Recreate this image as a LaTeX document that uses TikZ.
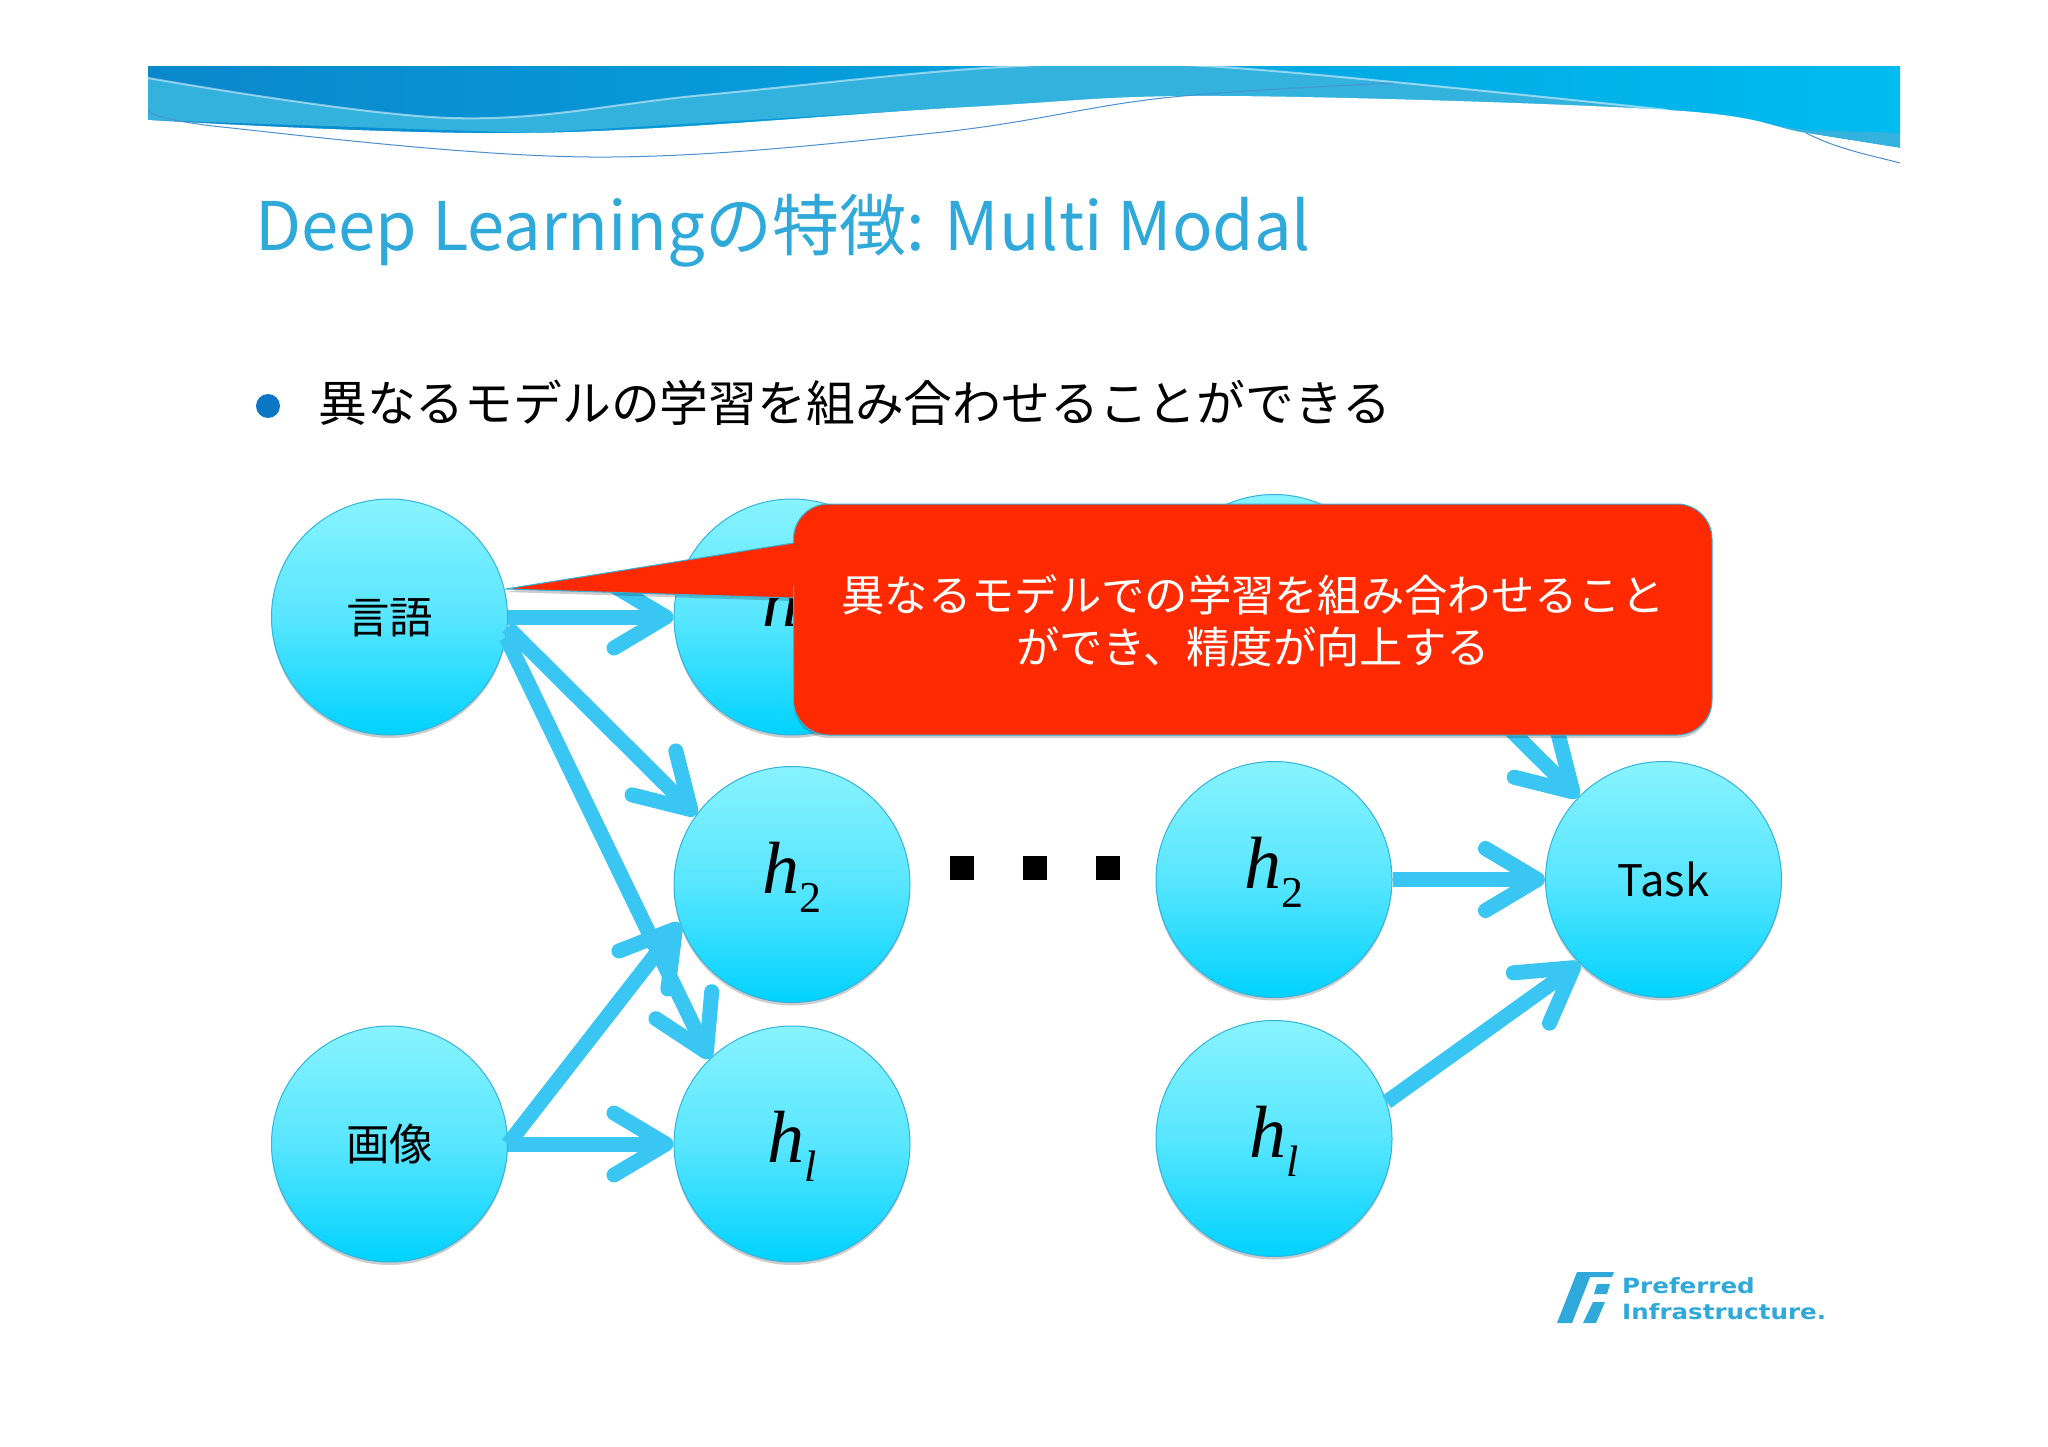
\documentclass[tikz,border=0pt]{standalone}
\usepackage{fontspec}
\setmainfont{Noto Sans CJK JP}
\newfontfamily\mathfont{Liberation Serif}
\newfontfamily\logofont[FakeStretch=1.17]{DejaVu Sans}
\usetikzlibrary{arrows.meta,shadows}
\definecolor{wave}{HTML}{33B2DE}
\definecolor{waveleft}{HTML}{0A88CC}
\definecolor{waveright}{HTML}{00BBF0}
\definecolor{waveline}{HTML}{4A90D0}
\definecolor{arrowblue}{HTML}{3AC6F2}
\definecolor{titleblue}{HTML}{2FA9D9}
\definecolor{bulletblue}{HTML}{0A76C4}
\definecolor{callred}{HTML}{FF2A00}
\definecolor{unittop}{HTML}{88F3FF}
\definecolor{unitmid}{HTML}{58E6FF}
\definecolor{unitbot}{HTML}{00D2FF}
\newcommand{\hlabel}[2]{\rule{0pt}{#2}\smash{\mathfont\fontsize{74}{74}\selectfont\textit{h}\raisebox{-19pt}{\fontsize{44}{44}\selectfont #1}}}
\newcommand{\wordlabel}[1]{\rule{0pt}{33pt}\smash{#1}}
\tikzset{
	unit/.style={circle,minimum size=236pt,inner sep=0pt,draw=wave,line width=1pt,
		top color=unittop,bottom color=unitbot,middle color=unitmid,
		font=\fontsize{43.5}{43.5}\selectfont,
		drop shadow={shadow xshift=0pt,shadow yshift=-3pt,opacity=.2,fill=black}},
	link/.style={draw=arrowblue,line width=15pt,-{Straight Barb[length=52pt,width=62pt,round]}},
	dot/.style={fill=black,minimum size=24pt,inner sep=0pt}
}
\begin{document}
\begin{tikzpicture}[x=1pt,y=-1pt]
	\useasboundingbox (0,0) rectangle (2048,1447);
	% banner
	\begin{scope}
		\clip (148,67) rectangle (1900,175);
		\fill[left color=waveleft,right color=waveright] (148,67) rectangle (1900,133);
		\fill[wave] plot[smooth,tension=.6] coordinates {(148,78) (451,118) (704,95) (1002,67) (1221,67) (1668,110) (1806,133) (1900,148)} -- (1900,133) -- (1806,130) -- (1668,110) -- (1221,96) -- (968,107) -- (532,133) -- (148,120) -- cycle;
		\fill[white] plot[smooth,tension=.6] coordinates {(148,120) (532,133) (968,107) (1221,96) (1668,110) (1806,133) (1900,148)} -- (1900,175) -- (148,175) -- cycle;
		\draw[white,opacity=.5,line width=2pt] plot[smooth,tension=.6] coordinates {(148,78) (451,118) (704,95) (1002,67) (1221,67) (1668,110)};
		\draw[waveline,line width=1pt] plot[smooth,tension=.6] coordinates {(148,110) (222,127) (589,157) (934,133) (1163,98) (1393,83)};
		\draw[waveline,line width=1pt] (1806,133) .. controls (1840,150) and (1870,155) .. (1900,163);
	\end{scope}
	% title and bullet
	\node[anchor=base west,inner sep=0pt,text=titleblue,font=\fontsize{67}{67}\selectfont] (title) at (255,251) {Deep Learningの特徴: Multi Modal};
	\fill[bulletblue] (268,406) circle (12pt);
	\node[anchor=base west,inner sep=0pt,font=\fontsize{48.8}{48.8}\selectfont] (bullet) at (318,421) {異なるモデルの学習を組み合わせることができる};
	% units
	\node[unit] (lang) at (389.5,617) {\wordlabel{言語}};
	\node[unit] (img) at (389.5,1144) {\wordlabel{画像}};
	\node[unit] (ha) at (792,617) {\hlabel{1}{18pt}};
	\node[unit] (hb) at (792,884.5) {\hlabel{2}{18pt}};
	\node[unit] (hc) at (792,1144) {\hlabel{\textit{l}}{37pt}};
	\node[unit] (ra) at (1274,612.5) {};
	\node[unit] (rb) at (1274,879.5) {\hlabel{2}{18pt}};
	\node[unit] (rc) at (1274,1138.5) {\hlabel{\textit{l}}{37pt}};
	\node[unit] (task) at (1663.5,879.5) {\wordlabel{Task}};
	% links
	\draw[link] (lang) -- (ha);
	\draw[link] (lang.-5) -- (hb.144);
	\draw[link] (lang.-10) -- (hc.134);
	\draw[link] (img.0) -- (hb.199);
	\draw[link] (img) -- (hc);
	\draw[link] (ra.0) -- (task.136);
	\draw[link] (rb) -- (task);
	\draw[link] (rc.18) -- (task.225);
	\node[dot] (d1) at (962,868) {};
	\node[dot] (d2) at (1035,868) {};
	\node[dot] (d3) at (1108,868) {};
	% callout
	\coordinate (tip) at (505.6,589);
	\fill[callred,draw=wave,line width=1pt,drop shadow={shadow xshift=0pt,shadow yshift=-3pt,opacity=.2,fill=black},rounded corners=35pt] (793.5,543) -- (793.5,504) -- (1712,504) -- (1712,735) -- (793.5,735) -- (793.5,620) [sharp corners] -- (793.5,598) -- (tip) -- cycle;
	\node[align=center,text=white,font=\fontsize{43.3}{52}\selectfont] (note) at (1253,621) {異なるモデルでの学習を組み合わせること\\ができ、精度が向上する};
	% logo
	\fill[titleblue] (1577,1272) -- (1614,1272) -- (1612,1277) -- (1590,1277) -- (1572,1323) -- (1557,1323) -- cycle;
	\fill[titleblue] (1597,1284) -- (1610,1284) -- (1607,1294) -- (1594,1294) -- cycle;
	\fill[titleblue] (1593,1302) -- (1605,1302) -- (1596,1323) -- (1583,1323) -- cycle;
	\node[anchor=base west,inner sep=0pt,text=titleblue,font=\logofont\bfseries\fontsize{21}{21}\selectfont] (logoa) at (1622,1293) {Preferred};
	\node[anchor=base west,inner sep=0pt,text=titleblue,font=\logofont\bfseries\fontsize{21}{21}\selectfont] (logob) at (1622,1319) {Infrastructure.};
\end{tikzpicture}
\end{document}
